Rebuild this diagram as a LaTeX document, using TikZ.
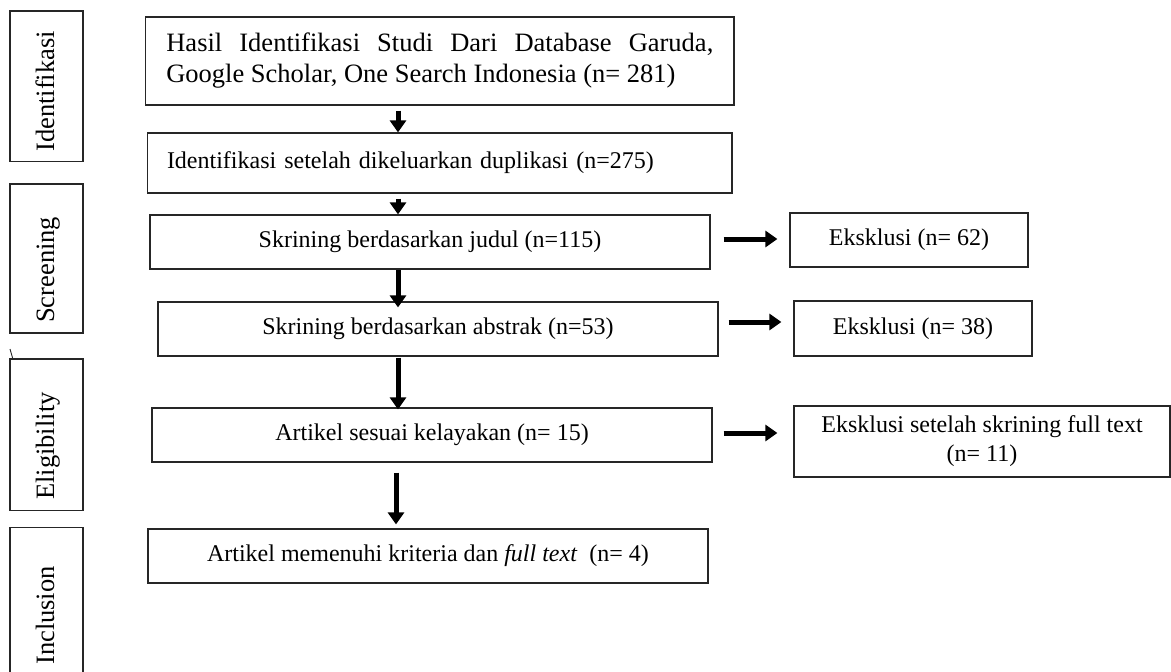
\documentclass[tikz,border=0pt]{standalone}
\usepackage{fontspec}
\setmainfont{Liberation Serif}
\usetikzlibrary{arrows.meta,calc}
\hyphenpenalty=10000
\exhyphenpenalty=10000
\tolerance=10000
\begin{document}
\begin{tikzpicture}[x=1pt,y=-1pt,
  box/.style={draw=black!85, line width=1.2pt, inner sep=0pt, align=center, font=\fontsize{24}{29}\selectfont},
  phase/.style={draw=black!85, line width=1.2pt, inner sep=0pt, minimum width=73pt},
  plabel/.style={rotate=90, anchor=base west, inner sep=0pt, font=\fontsize{26.5}{30}\selectfont},
  arr/.style={line width=5pt, black, -{Triangle[width=16pt,length=12pt]}}
]
\useasboundingbox (0,0) rectangle (1171,672);

% phase boxes
\node[phase, minimum height=150.7pt] (p1) at (46.5,86.35) {};
\node[phase, minimum height=149pt] (p2) at (46.5,258.5) {};
\node[phase, minimum height=151.7pt] (p3) at (46.5,434.85) {};
\node[phase, minimum height=148.3pt] (p4) at (46.5,601.85) {};
\node[plabel] (l1) at (54,152) {Identifikasi};
\node[plabel] (l2) at (54,323) {Screening};
\node[plabel] (l3) at (54,500) {Eligibility};
\node[plabel] (l4) at (54,665) {Inclusion};
\coordinate (t0) at (10,349);
\draw[line width=0.9pt, black!85] (t0) -- ($(p3.north west)+(3.3,0)$);

% main boxes
\node[box, minimum width=588.3pt, minimum height=88pt, text width=547pt, align=justify, font=\fontsize{26.5}{31}\selectfont] (b1) at (439.85,61) {Hasil Identifikasi Studi Dari Database Garuda, Google Scholar, One Search Indonesia (n= 281)};
\node[box, minimum width=584.3pt, minimum height=60pt, text width=545.7pt, align=left] (b2) at (439.85,163) {Identifikasi setelah dikeluarkan duplikasi (n=275)};
\node[box, minimum width=560pt, minimum height=54pt] (b3) at (430,242) {Skrining berdasarkan judul (n=115)};
\node[box, minimum width=560pt, minimum height=54pt] (b4) at (438,329) {Skrining berdasarkan abstrak (n=53)};
\node[box, minimum width=560pt, minimum height=54pt] (b5) at (432,435) {Artikel sesuai kelayakan (n= 15)};
\node[box, minimum width=560pt, minimum height=54pt] (b6) at (428,556) {Artikel memenuhi kriteria dan \textit{full text}~ (n= 4)};

% exclusion boxes
\node[box, minimum width=238pt, minimum height=54pt] (e1) at (909,240) {Eksklusi (n= 62)};
\node[box, minimum width=238pt, minimum height=55pt] (e2) at (913,328.5) {Eksklusi (n= 38)};
\node[box, minimum width=376pt, minimum height=71pt] (e3) at (982,441.5) {Eksklusi setelah skrining full text\\(n= 11)};

% vertical arrows
\coordinate (ax) at (398,0);
\coordinate (ax2) at (396,0);
\draw[arr] ($(b1.south -| ax)+(0,5)$) -- (b2.north -| ax);
\draw[arr] ($(b2.south -| ax)+(0,5)$) -- (b3.north -| ax);
\draw[arr] (b3.south -| ax) -- ($(b4.north -| ax)+(0,6)$);
\draw[arr] ($(b4.south -| ax)+(0,1)$) -- ($(b5.north -| ax)+(0,2)$);
\draw[arr] ($(b5.south -| ax2)+(0,10)$) -- ($(b6.north -| ax2)+(0,-4)$);

% horizontal arrows
\draw[arr] ($(b3.east)+(13,-3)$) -- ($(e1.west)+(-12,-1)$);
\draw[arr] ($(b4.east)+(10,-7)$) -- ($(e2.west)+(-12,-6.5)$);
\draw[arr] ($(b5.east)+(11,-2)$) -- ($(e3.west)+(-16,-8.5)$);
\end{tikzpicture}
\end{document}
